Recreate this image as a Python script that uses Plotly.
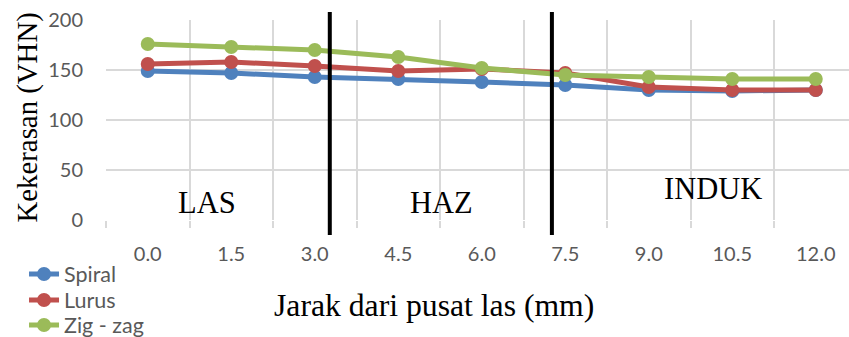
import plotly.graph_objects as go

jarak = [0.0, 1.5, 3.0, 4.5, 6.0, 7.5, 9.0, 10.5, 12.0]
spiral = [149, 147, 143, 141, 138, 135, 130, 129, 130]
lurus = [156, 158, 154, 149, 151, 147, 133, 130, 130]
zigzag = [176, 173, 170, 163, 152, 145, 143, 141, 141]

series_names = ["Spiral", "Lurus", "Zig - zag"]
series_colors = ["#4F81BD", "#C0504D", "#9BBB59"]

zone_bounds = [3.27, 7.26]
zone_labels = ["LAS", "HAZ", "INDUK"]
zone_label_x = [1.06, 5.27, 10.15]
zone_label_y = [17, 17, 31]

x_title = "Jarak dari pusat las (mm)"
y_title = "Kekerasan (VHN)"

serif = "Liberation Serif, Times New Roman, serif"
sans = "Lato, Open Sans, sans-serif"

legend_ids = ["legend", "legend2", "legend3"]
legend_y = [0.187, 0.1098, 0.0356]

fig = go.Figure()
for name, vals, col, lid in zip(series_names, [spiral, lurus, zigzag], series_colors, legend_ids):
    fig.add_trace(go.Scatter(
        x=jarak, y=vals, name=name, mode="lines+markers",
        line=dict(color=col, width=5),
        marker=dict(color=col, size=14),
        legend=lid,
    ))

for xb in zone_bounds:
    fig.add_shape(type="line", xref="x", yref="paper", x0=xb, x1=xb,
                  y0=-0.075, y1=1.04, line=dict(color="black", width=4))

for t, xx, yy in zip(zone_labels, zone_label_x, zone_label_y):
    fig.add_annotation(x=xx, y=yy, text=t, showarrow=False,
                       font=dict(family=serif, size=30.5, color="black"))

fig.add_annotation(xref="paper", yref="paper", x=0.441, y=-0.425, text=x_title,
                   showarrow=False, xanchor="center", yanchor="middle",
                   font=dict(family=serif, size=31.7, color="black"))
fig.add_annotation(xref="paper", yref="paper", x=-0.105, y=0.5125, text=y_title,
                   showarrow=False, textangle=-90, xanchor="center", yanchor="middle",
                   font=dict(family=serif, size=28.8, color="black"))

legend_style = dict(xref="container", yref="container", x=0.0283, xanchor="left",
                    yanchor="middle", orientation="v",
                    font=dict(family=sans, size=21.5, color="#595959"),
                    bgcolor="rgba(0,0,0,0)")

fig.update_layout(
    width=849, height=337,
    margin=dict(l=106, r=0, t=20, b=117, autoexpand=False),
    paper_bgcolor="white", plot_bgcolor="white",
    showlegend=True,
    legend=dict(legend_style, y=legend_y[0]),
    legend2=dict(legend_style, y=legend_y[1]),
    legend3=dict(legend_style, y=legend_y[2]),
    xaxis=dict(
        range=[-0.75, 12.597], tickmode="array", tickvals=jarak,
        ticktext=[f"{v:.1f}" for v in jarak],
        showgrid=False, zeroline=False, showline=False, automargin=False,
        ticks="", ticklabelstandoff=20,
        tickfont=dict(family=sans, size=20, color="#595959"),
        minor=dict(tick0=-0.75, dtick=1.5, showgrid=True, gridcolor="#D9D9D9",
                   gridwidth=1.5, ticks="outside", ticklen=7, tickcolor="#D9D9D9",
                   tickwidth=1.5),
    ),
    yaxis=dict(
        range=[0, 200], tickvals=[0, 50, 100, 150, 200],
        showgrid=True, gridcolor="#D9D9D9", gridwidth=1.5,
        zeroline=False, showline=False, ticks="", automargin=False,
        ticklabelstandoff=22,
        tickfont=dict(family=sans, size=20, color="#595959"),
    ),
)
fig.write_html("out.html")
